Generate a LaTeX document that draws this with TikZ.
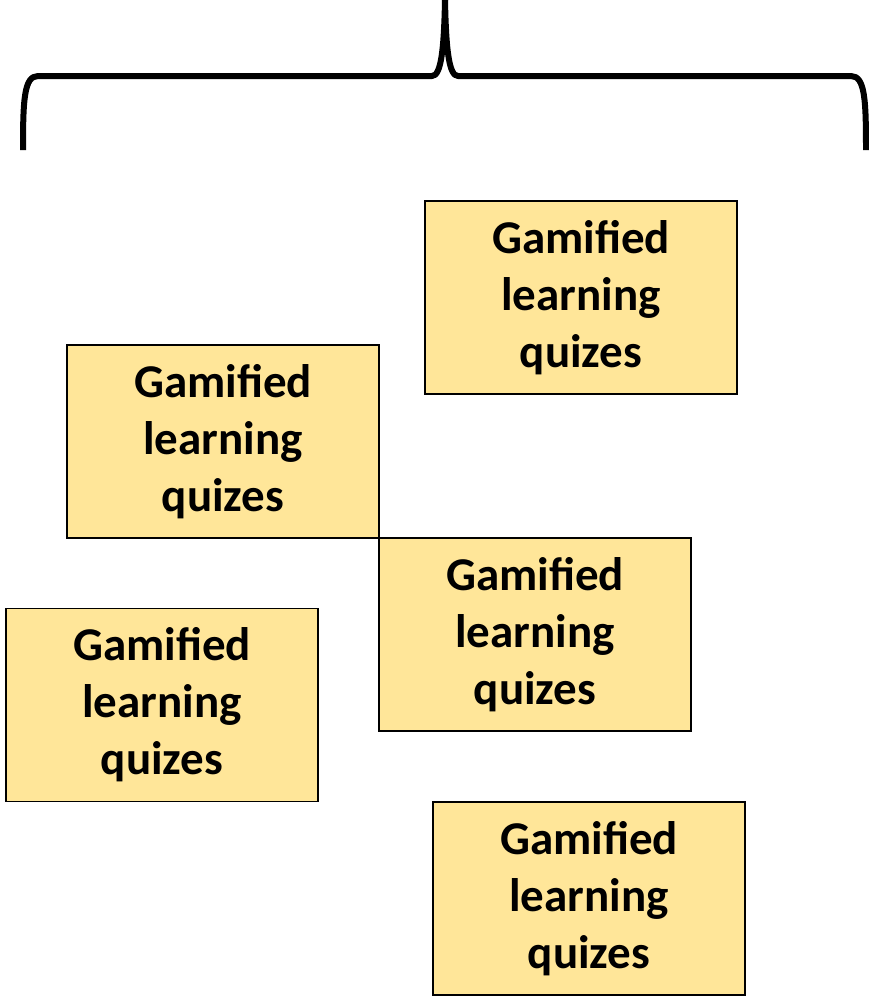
\documentclass[tikz,border=0pt]{standalone}
\usepackage{fontspec}
\setmainfont{Carlito}
\usepackage{tikz}
\usetikzlibrary{positioning}

\definecolor{quizfill}{HTML}{FFE699}
\tikzset{quizbox/.style={draw=black, line width=1.5pt, fill=quizfill, minimum width=312pt, minimum height=193pt, text width=300pt, align=center, inner sep=0pt, font=\fontsize{47}{57}\selectfont\bfseries}}

\begin{document}
\begin{tikzpicture}[x=1pt,y=-1pt]
\useasboundingbox (0,0) rectangle (869,996);
% the brace over the quizzes
\draw[line width=6pt, line cap=butt, line join=round] (23,150) .. controls (23,100) and (24,76) .. (38,76) -- (432,76) .. controls (441,76) and (444,50) .. (445,0);
\draw[line width=6pt, line cap=butt, line join=round] (866,150) .. controls (866,100) and (865,76) .. (851,76) -- (458,76) .. controls (449,76) and (446,50) .. (445,0);
\foreach \Point/\Name in {(581,297.5)/quizA, (223,441.5)/quizB, (535,634.5)/quizC, (162,705)/quizD, (589,898.5)/quizE}
    \node[quizbox] (\Name) at \Point {Gamified\\learning\\quizes};
\end{tikzpicture}
\end{document}
